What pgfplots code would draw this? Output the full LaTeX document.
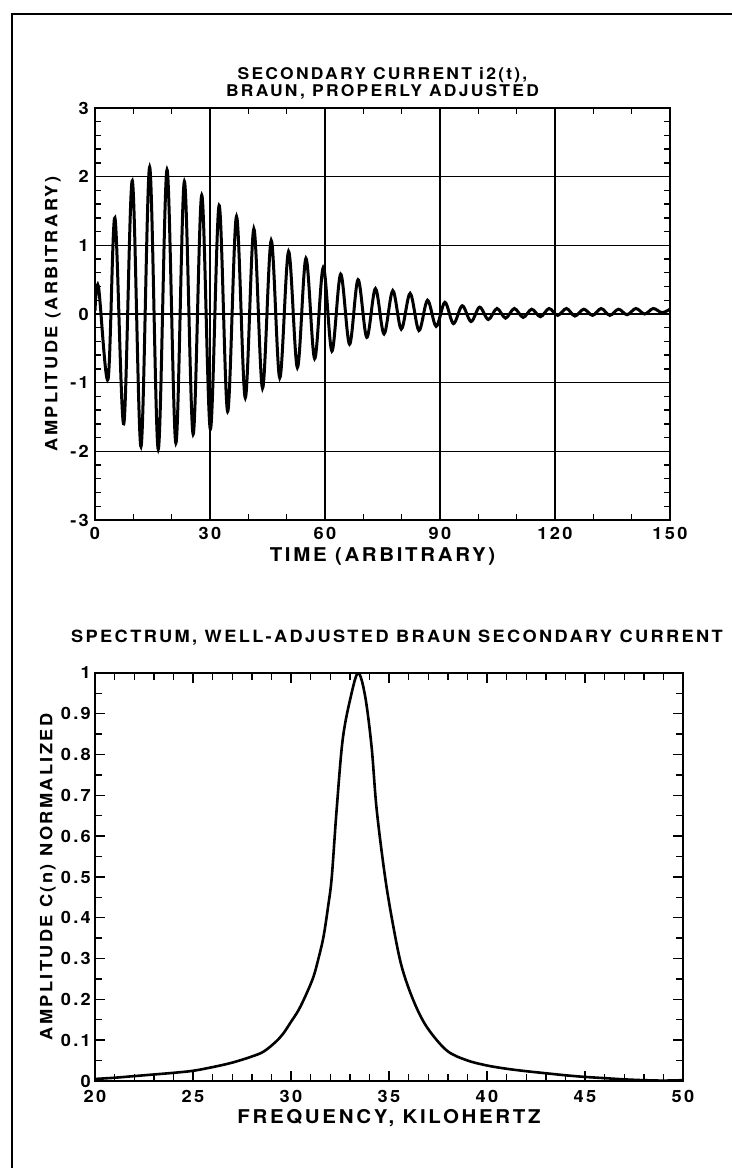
\documentclass[border=0pt]{standalone}
\usepackage{fontspec}
\setmainfont{TeX Gyre Heros}[FakeStretch=1.08, LetterSpace=14]
\usepackage{pgfplots}
\pgfplotsset{compat=1.18}

\pgfplotsset{
  oldplot/.style={
    scale only axis,
    axis line style={line width=0.5mm},
    tick style={black, line width=0.35mm},
    tick align=inside,
    every tick label/.append style={font=\fontsize{12}{12}\selectfont\bfseries},
    ylabel style={font=\fontsize{12}{12}\selectfont\bfseries},
    xlabel style={font=\fontsize{13.5}{14}\selectfont\bfseries},
  },
}

\begin{document}
\begin{tikzpicture}
\path[use as bounding box] (0,0) rectangle (183mm,292mm);
% scan frame
\draw[line width=0.5mm] (3mm,0) -- (3mm,288.5mm) -- (183mm,288.5mm);

% top: secondary current
\begin{axis}[oldplot,
  at={(23.75mm,162mm)}, anchor=south west,
  width=143.75mm, height=103mm,
  xmin=0, xmax=150, ymin=-3, ymax=3,
  xtick={0,30,60,90,120,150}, xticklabels={0,30,60,90,120,150},
  ytick={-3,-2,-1,0,1,2,3}, yticklabels={-3,-2,-1,0,1,2,3},
  minor x tick num=2, minor y tick num=4,
  major tick length=0mm, minor tick length=1.6mm,
  grid=major, major grid style={black, line width=0.4mm},
  xticklabel style={yshift=-0.6mm},
  yticklabel style={xshift=-0.3mm},
  title={SECONDARY CURRENT i2(t),\\BRAUN, PROPERLY ADJUSTED},
  title style={align=center, font=\fontsize{11.5}{12.5}\selectfont\bfseries, at={(0.5,1)}, anchor=south, yshift=-1.2mm},
  xlabel={TIME (ARBITRARY)},
  xlabel style={at={(axis description cs:0.5,0)}, anchor=center, yshift=-9mm},
  ylabel={AMPLITUDE (ARBITRARY)},
  ylabel style={at={(axis description cs:0,0.5)}, anchor=center, yshift=10.5mm},
]
\addplot[black, line width=0.75mm, smooth, tension=0.55] coordinates {
(0,0.05) (0.9,0.40) (3.4,-0.95) (5.2,1.40) (7.5,-1.60) (9.73,1.94)
(12.0,-1.93) (14.26,2.14) (16.5,-1.97) (18.79,2.10) (21.1,-1.88) (23.32,1.93)
(25.6,-1.75) (27.85,1.73) (30.1,-1.68) (32.38,1.58) (34.6,-1.42) (36.91,1.42)
(39.2,-1.22) (41.44,1.24) (43.7,-1.08) (45.97,1.07) (48.2,-0.93) (50.5,0.91)
(52.8,-0.78) (55.03,0.81) (57.3,-0.65) (59.56,0.68) (61.8,-0.54) (64.09,0.58)
(66.4,-0.44) (68.62,0.50) (70.9,-0.34) (73.15,0.37) (75.4,-0.29) (77.68,0.34)
(79.9,-0.22) (82.21,0.30) (84.5,-0.24) (86.74,0.20) (89.0,-0.18) (91.27,0.17)
(93.5,-0.14) (95.8,0.12) (98.1,-0.11) (100.33,0.10) (102.6,-0.08) (104.86,0.08)
(107.1,-0.06) (109.39,0.08) (111.7,-0.05) (113.92,0.07) (116.2,-0.04) (118.45,0.08)
(120.7,-0.02) (122.98,0.08) (125.2,-0.03) (127.51,0.07) (129.8,-0.02) (132.04,0.08)
(134.3,-0.02) (136.57,0.07) (138.8,-0.01) (141.1,0.08) (143.4,0.00) (145.63,0.08)
(147.9,0.02) (150,0.07)
};
\end{axis}

% bottom: spectrum
\begin{axis}[oldplot,
  at={(23.75mm,21.75mm)}, anchor=south west,
  width=147mm, height=102mm,
  xmin=20, xmax=50, ymin=0, ymax=1,
  xtick={20,25,30,35,40,45,50}, xticklabels={20,25,30,35,40,45,50},
  ytick={0,0.1,0.2,0.3,0.4,0.5,0.6,0.7,0.8,0.9,1},
  yticklabels={0,0.1,0.2,0.3,0.4,0.5,0.6,0.7,0.8,0.9,1},
  minor x tick num=4, minor y tick num=1,
  major tick length=2.4mm, minor tick length=1.8mm,
  xticklabel style={yshift=-1.1mm},
  yticklabel style={xshift=0.2mm},
  title={SPECTRUM, WELL-ADJUSTED BRAUN SECONDARY CURRENT},
  title style={font=\fontsize{12}{13}\selectfont\bfseries, at={(0.5,1)}, anchor=south, xshift=2mm, yshift=3.6mm},
  xlabel={FREQUENCY, KILOHERTZ},
  xlabel style={at={(axis description cs:0.5,0)}, anchor=center, yshift=-9.2mm},
  ylabel={AMPLITUDE C(n) NORMALIZED},
  ylabel style={at={(axis description cs:0,0.5)}, anchor=center, yshift=11.8mm},
]
\addplot[black, line width=0.65mm, smooth, tension=0.55] coordinates {
(20,0.005) (21,0.008) (22,0.012) (23,0.016) (24,0.020) (25,0.025)
(26,0.034) (27,0.045) (28,0.060) (28.6,0.072) (29.2,0.095) (29.6,0.116)
(30.0,0.145) (30.4,0.175) (30.8,0.215) (31.15,0.256) (31.4,0.30) (31.66,0.354)
(31.9,0.43) (32.08,0.50) (32.33,0.666) (32.64,0.838) (33.06,0.944) (33.43,1.0)
(33.78,0.944) (34.11,0.82) (34.37,0.666) (34.8,0.50) (35.22,0.379) (35.65,0.28)
(36.24,0.198) (36.92,0.133) (37.94,0.075) (38.96,0.051) (40,0.038) (41,0.030)
(42,0.024) (43,0.019) (44,0.014) (45,0.010) (46,0.007) (47,0.004)
(48,0.002) (49,0.001) (50,0.002)
};
\end{axis}
\end{tikzpicture}
\end{document}
